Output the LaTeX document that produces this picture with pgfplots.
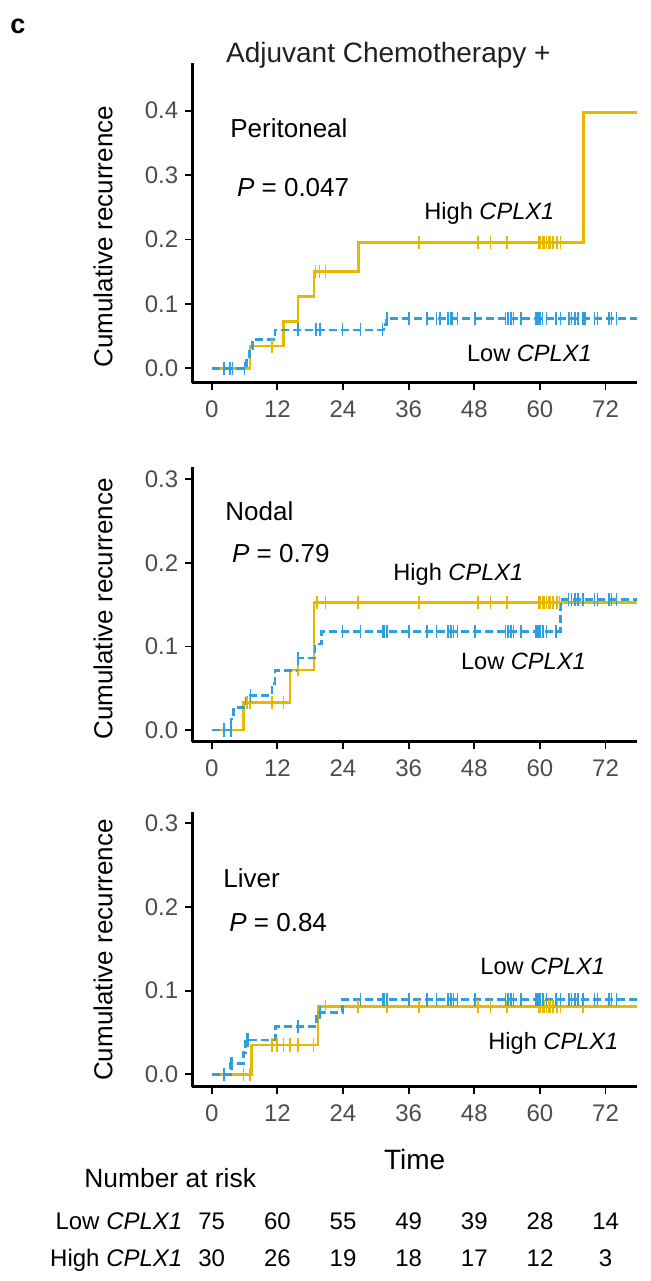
\documentclass[border=0pt]{standalone}
\usepackage{fontspec}
\setmainfont{Liberation Sans}
\usepackage{pgfplots}
\pgfplotsset{compat=1.18}

\definecolor{hiC}{HTML}{E7B800}
\definecolor{loC}{HTML}{2E9FDF}
\definecolor{tickgrey}{HTML}{4D4D4D}
\definecolor{titlegrey}{HTML}{231F20}

\newcommand{\fs}[1]{\fontsize{#1}{#1}\selectfont}
\newcommand{\gene}{\textit{CPLX1}}
% text node at reference pixel position (x from left, y from top)
\newcommand{\lab}[5][]{\node[inner sep=0pt,anchor=base west,#1] at ({(#2)*0.5pt},{(1281-(#3))*0.5pt}) {\fs{#4}#5};}

\pgfplotsset{
  km/.style={
    scale only axis, anchor=south west, width=222.2pt,
    xmin=-3.55, xmax=77.7, clip=false,
    axis x line*=bottom, axis y line*=left,
    axis line style={line width=1.2pt},
    tick align=outside, major tick length=3.5pt,
    tick style={line width=0.9pt, black},
    xtick={0,12,...,72},
    ticklabel style={font=\fs{12}, text=tickgrey},
    xticklabel style={yshift=-2pt},
    /pgf/number format/assume math mode=true,
    yticklabel style={/pgf/number format/fixed, /pgf/number format/fixed zerofill, /pgf/number format/precision=1},
  },
  hi/.style={const plot, color=hiC, line width=1.3pt, no marks},
  lo/.style={const plot, color=loC, line width=1.3pt, dash pattern=on 4pt off 2pt, no marks},
  hicens/.style={only marks, mark=|, mark size=3.3pt, color=hiC, mark options={line width=0.8pt, solid}},
  locens/.style={only marks, mark=|, mark size=3.3pt, color=loC, mark options={line width=0.8pt, solid}},
}

\begin{document}
\begin{tikzpicture}
\path[use as bounding box] (0,0) rectangle (325.5pt,640.5pt);
\coordinate (A1) at ({192.3*0.5pt},{(1281-382.7)*0.5pt});
\coordinate (A2) at ({192.3*0.5pt},{(1281-741.7)*0.5pt});
\coordinate (A3) at ({192.3*0.5pt},{(1281-1086.7)*0.5pt});

% ---- Peritoneal
\begin{axis}[km, at={(A1)}, height=159.7pt, ymin=-0.0224, ymax=0.4736,
  ytick={0,0.1,0.2,0.3,0.4}]
\addplot[hi] coordinates {(0,0) (7.0,0.0347) (13.1,0.0725) (15.8,0.111) (18.7,0.150) (26.8,0.195) (68.0,0.397) (77.7,0.397)};
\addplot[hicens] coordinates {(11.0,0.0347) (19.0,0.150) (19.7,0.150) (20.8,0.150)
  (37.9,0.195) (48.7,0.195) (51.0,0.195) (54.0,0.195) (59.8,0.195) (60.1,0.195) (60.5,0.195)
  (60.8,0.195) (61.2,0.195) (61.6,0.195) (61.9,0.195) (62.4,0.195) (63.1,0.195) (63.8,0.195)};
\addplot[lo] coordinates {(0,0) (6.4,0.015) (6.9,0.030) (7.5,0.045) (11.6,0.0596) (31.4,0.068) (32.0,0.0777) (77.7,0.0777)};
\addplot[locens] coordinates {(2.3,0) (3.35,0) (3.8,0) (6.0,0)
  (15.8,0.0596) (19.1,0.0596) (19.8,0.0596) (23.9,0.0596) (27.2,0.0596) (31.2,0.0596)
  (32.1,0.0777) (36.1,0.0777) (39.4,0.0777) (41.1,0.0777) (41.7,0.0777) (43.2,0.0777)
  (43.7,0.0777) (44.0,0.0777) (44.9,0.0777) (48.1,0.0777) (53.7,0.0777) (54.2,0.0777)
  (54.7,0.0777) (55.2,0.0777) (56.5,0.0777) (59.3,0.0777) (59.5,0.0777) (59.8,0.0777)
  (60.1,0.0777) (60.5,0.0777) (61.2,0.0777) (62.9,0.0777) (63.8,0.0777) (65.3,0.0777)
  (65.8,0.0777) (66.4,0.0777) (67.0,0.0777) (67.9,0.0777) (68.2,0.0777) (70.0,0.0777)
  (70.5,0.0777) (72.6,0.0777) (73.1,0.0777) (74.0,0.0777)};
\end{axis}

% ---- Nodal
\begin{axis}[km, at={(A2)}, height=137.5pt, ymin=-0.014, ymax=0.3151,
  ytick={0,0.1,0.2,0.3}]
\addplot[hi] coordinates {(0,0) (5.8,0.0332) (14.3,0.072) (18.7,0.1524) (77.7,0.1524)};
\addplot[hicens] coordinates {(6.4,0.0332) (7.0,0.0332) (11.0,0.0332) (13.1,0.0332) (15.8,0.072)
  (19.3,0.1524) (20.8,0.1524) (26.7,0.1524) (37.9,0.1524) (48.7,0.1524) (51.0,0.1524) (54.0,0.1524)
  (59.8,0.1524) (60.1,0.1524) (60.5,0.1524) (60.8,0.1524) (61.2,0.1524) (61.6,0.1524)
  (61.9,0.1524) (62.4,0.1524) (63.1,0.1524) (63.6,0.1524)};
\addplot[lo] coordinates {(0,0) (3.5,0.013) (4.0,0.027) (6.4,0.041) (11.0,0.056) (11.6,0.071) (15.8,0.086) (18.9,0.103) (20.1,0.118) (63.8,0.156) (77.7,0.156)};
\addplot[locens] coordinates {(2.3,0) (3.5,0) (7.1,0.041) (15.8,0.086)
  (23.9,0.118) (27.2,0.118) (31.2,0.118) (31.5,0.118) (32.0,0.118) (36.1,0.118) (39.4,0.118)
  (41.1,0.118) (43.2,0.118) (43.7,0.118) (44.2,0.118) (44.9,0.118) (48.1,0.118) (53.7,0.118)
  (54.2,0.118) (54.7,0.118) (55.2,0.118) (56.5,0.118) (59.3,0.118) (59.5,0.118) (59.8,0.118)
  (60.1,0.118) (60.6,0.118) (61.2,0.118) (62.9,0.118)
  (65.2,0.156) (65.8,0.156) (66.4,0.156) (67.0,0.156) (67.9,0.156) (70.0,0.156) (70.5,0.156)
  (72.6,0.156) (73.1,0.156) (74.0,0.156)};
\end{axis}

% ---- Liver
\begin{axis}[km, at={(A3)}, height=137.5pt, ymin=-0.0148, ymax=0.3139,
  ytick={0,0.1,0.2,0.3}]
\addplot[hi] coordinates {(0,0) (7.3,0.035) (19.4,0.081) (77.7,0.081)};
\addplot[hicens] coordinates {(5.8,0) (7.0,0) (11.0,0.035) (11.9,0.035) (13.1,0.035) (14.3,0.035)
  (15.8,0.035) (18.6,0.035) (20.8,0.081) (26.7,0.081) (32.1,0.081) (37.9,0.081) (48.7,0.081)
  (51.0,0.081) (54.0,0.081) (59.8,0.081) (60.1,0.081) (60.5,0.081) (60.8,0.081) (61.2,0.081)
  (61.6,0.081) (61.9,0.081) (62.4,0.081) (63.1,0.081) (63.8,0.081) (67.9,0.081)};
\addplot[lo] coordinates {(0,0) (3.4,0.013) (5.8,0.026) (6.2,0.041) (11.7,0.057) (19.2,0.074) (23.9,0.0896) (77.7,0.0896)};
\addplot[locens] coordinates {(2.3,0) (3.5,0.013) (3.8,0.013) (6.4,0.041) (6.7,0.041)
  (15.8,0.057) (19.8,0.074)
  (27.2,0.0896) (31.2,0.0896) (31.5,0.0896) (32.0,0.0896) (36.1,0.0896) (39.4,0.0896)
  (41.1,0.0896) (43.2,0.0896) (43.7,0.0896) (44.2,0.0896) (44.9,0.0896) (48.1,0.0896)
  (53.7,0.0896) (54.2,0.0896) (54.7,0.0896) (55.2,0.0896) (56.5,0.0896) (59.3,0.0896)
  (59.5,0.0896) (59.8,0.0896) (60.1,0.0896) (60.6,0.0896) (61.2,0.0896) (62.9,0.0896)
  (63.8,0.0896) (65.3,0.0896) (65.8,0.0896) (66.4,0.0896) (67.0,0.0896) (67.9,0.0896)
  (70.0,0.0896) (70.5,0.0896) (72.6,0.0896) (73.1,0.0896) (74.0,0.0896)};
\end{axis}

% ---- texts
\lab{10}{34}{13.5}{\bfseries c}
\lab[text=titlegrey]{225.7}{63}{14}{Adjuvant Chemotherapy +}
\lab[anchor=center,rotate=90]{103}{236.7}{13}{Cumulative recurrence}
\lab[anchor=center,rotate=90]{103}{609}{13}{Cumulative recurrence}
\lab[anchor=center,rotate=90]{103}{950}{13}{Cumulative recurrence}

\lab{230}{137.3}{13}{Peritoneal}
\lab{236.7}{196.7}{13}{\textit{P} = 0.047}
\lab{424}{220}{11.8}{High \gene}
\lab{466.7}{361.7}{11.8}{Low \gene}

\lab{225}{521}{13}{Nodal}
\lab{231.7}{562.7}{13}{\textit{P} = 0.79}
\lab{393}{580.7}{11.8}{High \gene}
\lab{460.7}{669.3}{11.8}{Low \gene}

\lab{223}{887.3}{13}{Liver}
\lab{229}{931.7}{13}{\textit{P} = 0.84}
\lab{480}{975}{11.8}{Low \gene}
\lab{488}{1050}{11.8}{High \gene}

\lab[anchor=base]{414.7}{1169.3}{14}{Time}
\lab{84}{1187.3}{13.2}{Number at risk}
\lab[anchor=base east]{182.7}{1229.3}{12}{Low \gene}
\lab[anchor=base east]{182.7}{1266}{12}{High \gene}
\foreach \xx/\a/\b in {211.7/75/30, 277.4/60/26, 343/55/19, 408.7/49/18, 474.3/39/17, 540/28/12, 605.6/14/3} {
  \lab[anchor=base]{\xx}{1229.3}{12}{\a}
  \lab[anchor=base]{\xx}{1266}{12}{\b}
}
\end{tikzpicture}
\end{document}
